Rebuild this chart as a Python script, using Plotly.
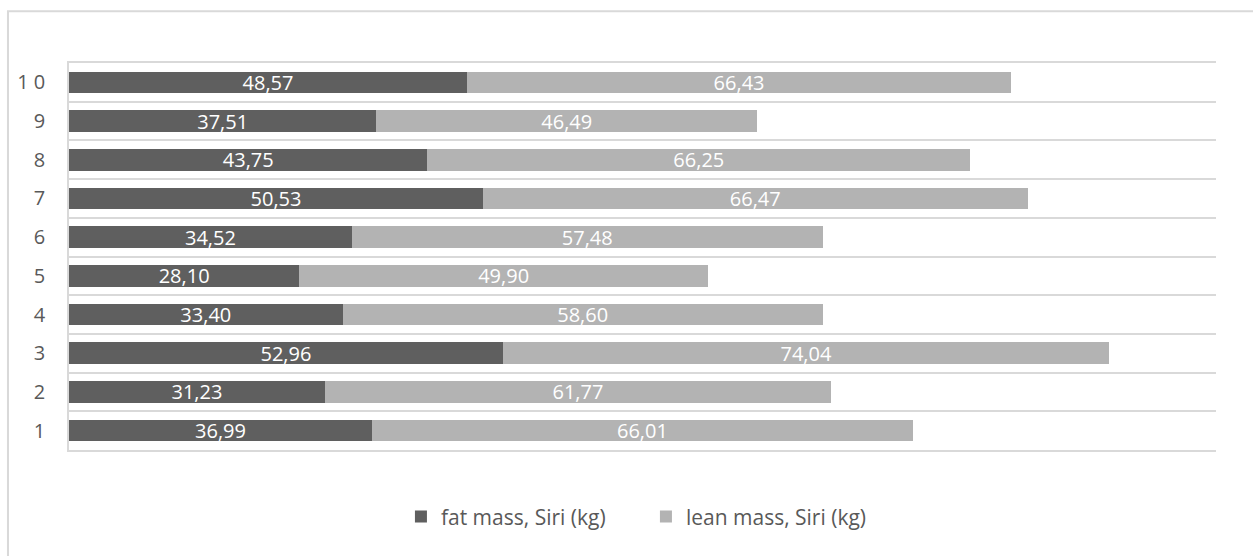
import plotly.graph_objects as go

# Subjects (category axis) and body-composition values in kg
subjects = [1, 2, 3, 4, 5, 6, 7, 8, 9, 10]
subject_labels = ["1", "2", "3", "4", "5", "6", "7", "8", "9", "1 0"]
fat_mass = [36.99, 31.23, 52.96, 33.40, 28.10, 34.52, 50.53, 43.75, 37.51, 48.57]
lean_mass = [66.01, 61.77, 74.04, 58.60, 49.90, 57.48, 66.47, 66.25, 46.49, 66.43]

FONT = "Open Sans, Noto Sans, DejaVu Sans, sans-serif"
TEXT_GREY = "#595959"
GRID_GREY = "#D9D9D9"
LABEL_SIZE = 20

fig = go.Figure()
for name, values, colour in [
    ("fat mass, Siri (kg)", fat_mass, "#5F5F5F"),
    ("lean mass, Siri (kg)", lean_mass, "#B3B3B3"),
]:
    fig.add_trace(go.Bar(
        y=subjects, x=values, orientation="h", name=name,
        marker=dict(color=colour, line=dict(width=0)),
        texttemplate="%{x:.2f}", textposition="inside",
        insidetextanchor="middle", textangle=0, constraintext="none",
        textfont=dict(color="white", size=LABEL_SIZE, family=FONT),
        hoverinfo="skip",
    ))

fig.update_layout(
    width=1253, height=556,
    margin=dict(l=69, r=37, t=63, b=106),
    barmode="stack", bargap=0.44,
    separators=", ",
    paper_bgcolor="white", plot_bgcolor="white",
    font=dict(family=FONT, color=TEXT_GREY, size=20),
    showlegend=True,
    legend=dict(
        orientation="h", x=0.503, xanchor="center", y=-0.12, yanchor="top",
        font=dict(size=21, color=TEXT_GREY, family=FONT),
        traceorder="normal", entrywidth=200, itemwidth=30,
    ),
    uniformtext=dict(minsize=LABEL_SIZE, mode="show"),
)

# Top and bottom frame of the plot area come from the mirrored value-axis line
fig.update_xaxes(
    range=[0, 140], showgrid=False, zeroline=False,
    showticklabels=False, ticks="",
    showline=True, mirror=True, linecolor=GRID_GREY, linewidth=1.8,
)
fig.update_yaxes(
    range=[0.5, 10.5], tickmode="array", tickvals=subjects, ticktext=subject_labels,
    showgrid=False, zeroline=False, ticks="",
    showline=True, linecolor=GRID_GREY, linewidth=1.5,
    tickfont=dict(size=20, color=TEXT_GREY, family=FONT),
    ticklabelstandoff=18,
    minor=dict(tickmode="linear", tick0=0.5, dtick=1, showgrid=True,
               gridcolor=GRID_GREY, gridwidth=1.8, ticks=""),
)

# Chart-area frame (top and left edges visible)
fig.add_shape(type="rect", xref="paper", yref="paper",
              x0=-0.0532, x1=1.2, y0=-0.5, y1=1.134,
              line=dict(color=GRID_GREY, width=2), fillcolor="rgba(0,0,0,0)",
              layer="below")

fig.write_html("out.html")
